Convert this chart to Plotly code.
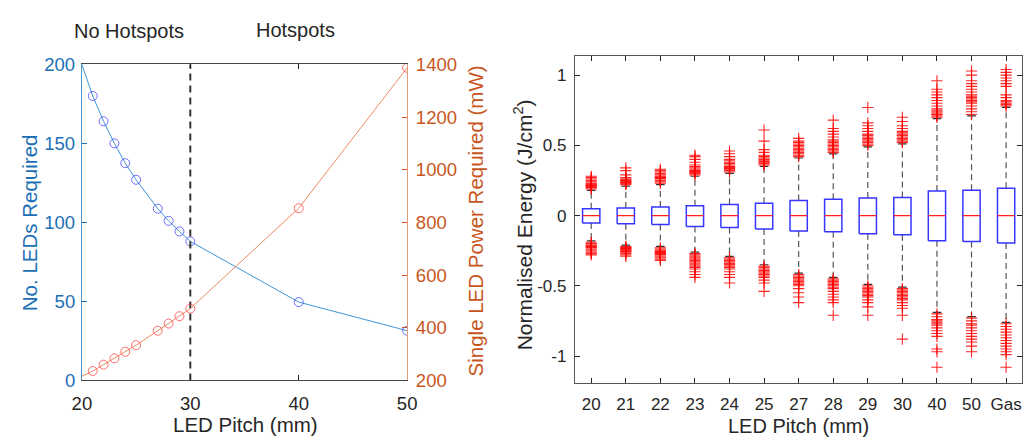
import plotly.graph_objects as go

# ---------------- Left chart data ----------------
pitch = [20, 21, 22, 23, 24, 25, 27, 28, 29, 30, 40, 50]
n_leds = [200, 180, 164, 150, 137.5, 127, 108.7, 101, 94.3, 88, 49.6, 31.5]
led_power = [216, 236, 260, 284, 309, 334, 389, 416, 444, 473, 854, 1387]
hotspot_threshold = 30

# ---------------- Right chart data ----------------
categories = ["20", "21", "22", "23", "24", "25", "27", "28", "29", "30", "40", "50", "Gas"]
medians = [0, 0, 0, 0, 0, 0, 0, 0, 0, 0, 0, 0, 0]
q3 = [0.048, 0.054, 0.061, 0.070, 0.079, 0.088, 0.107, 0.116, 0.125, 0.129, 0.175, 0.181, 0.195]
q1 = [-0.052, -0.059, -0.063, -0.077, -0.084, -0.095, -0.109, -0.116, -0.129, -0.136, -0.179, -0.184, -0.195]
whisk_hi = [0.18, 0.21, 0.22, 0.28, 0.30, 0.35, 0.41, 0.44, 0.49, 0.51, 0.69, 0.71, 0.77]
whisk_lo = [-0.18, -0.21, -0.22, -0.26, -0.29, -0.35, -0.41, -0.44, -0.49, -0.51, -0.69, -0.72, -0.76]
outliers = [
    [0.19, 0.20, 0.205, 0.21, 0.215, 0.22, 0.225, 0.23, 0.24, 0.25, 0.26, 0.27, 0.28,
     -0.19, -0.20, -0.21, -0.215, -0.22, -0.225, -0.23, -0.24, -0.25, -0.26, -0.27, -0.28],
    [0.22, 0.225, 0.23, 0.235, 0.24, 0.245, 0.25, 0.255, 0.26, 0.27, 0.29, 0.32, 0.34,
     -0.22, -0.225, -0.23, -0.235, -0.24, -0.245, -0.25, -0.255, -0.26, -0.27, -0.28, -0.29],
    [0.23, 0.24, 0.25, 0.26, 0.265, 0.27, 0.275, 0.28, 0.29, 0.30, 0.31, 0.32, 0.33,
     -0.23, -0.24, -0.25, -0.255, -0.26, -0.265, -0.27, -0.275, -0.28, -0.29, -0.30, -0.31, -0.32],
    [0.29, 0.30, 0.305, 0.31, 0.315, 0.32, 0.33, 0.34, 0.35, 0.36, 0.38, 0.40, 0.42, 0.43,
     -0.27, -0.28, -0.29, -0.30, -0.31, -0.32, -0.33, -0.34, -0.35, -0.36, -0.37, -0.38, -0.40, -0.42, -0.44],
    [0.31, 0.32, 0.33, 0.335, 0.34, 0.345, 0.35, 0.36, 0.37, 0.38, 0.39, 0.40, 0.42, 0.44, 0.46,
     -0.30, -0.31, -0.32, -0.33, -0.34, -0.345, -0.35, -0.36, -0.37, -0.38, -0.40, -0.42, -0.44, -0.48],
    [0.36, 0.37, 0.38, 0.385, 0.39, 0.40, 0.41, 0.42, 0.43, 0.45, 0.47, 0.53, 0.61,
     -0.36, -0.37, -0.38, -0.39, -0.40, -0.41, -0.42, -0.43, -0.44, -0.46, -0.48, -0.54],
    [0.42, 0.43, 0.44, 0.45, 0.46, 0.47, 0.48, 0.49, 0.50, 0.51, 0.52, 0.53, 0.55,
     -0.42, -0.43, -0.44, -0.45, -0.46, -0.47, -0.48, -0.49, -0.50, -0.52, -0.55, -0.58, -0.62],
    [0.45, 0.46, 0.47, 0.48, 0.49, 0.50, 0.51, 0.52, 0.53, 0.54, 0.56, 0.58, 0.60, 0.62, 0.68,
     -0.45, -0.46, -0.47, -0.48, -0.49, -0.50, -0.51, -0.52, -0.54, -0.56, -0.58, -0.60, -0.62, -0.71],
    [0.50, 0.51, 0.52, 0.53, 0.54, 0.55, 0.56, 0.57, 0.58, 0.60, 0.62, 0.64, 0.66, 0.77,
     -0.50, -0.51, -0.52, -0.53, -0.54, -0.55, -0.56, -0.57, -0.58, -0.60, -0.62, -0.65, -0.71],
    [0.52, 0.53, 0.54, 0.55, 0.56, 0.57, 0.58, 0.59, 0.60, 0.62, 0.64, 0.67, 0.70,
     -0.52, -0.53, -0.54, -0.55, -0.56, -0.57, -0.58, -0.59, -0.60, -0.62, -0.64, -0.66, -0.71, -0.88],
    [0.70, 0.71, 0.72, 0.73, 0.74, 0.75, 0.76, 0.78, 0.80, 0.82, 0.84, 0.86, 0.88, 0.90, 0.96,
     -0.70, -0.72, -0.74, -0.75, -0.76, -0.77, -0.78, -0.80, -0.82, -0.84, -0.86, -0.95, -0.97, -1.08],
    [0.72, 0.74, 0.76, 0.78, 0.80, 0.81, 0.82, 0.83, 0.84, 0.85, 0.86, 0.88, 0.90, 0.92, 0.94, 0.96, 1.00, 1.03,
     -0.73, -0.75, -0.77, -0.78, -0.80, -0.82, -0.84, -0.86, -0.88, -0.90, -0.93, -0.97],
    [0.78, 0.79, 0.80, 0.81, 0.82, 0.84, 0.86, 0.92, 0.94, 0.96, 0.98, 1.00, 1.02, 1.04,
     -0.77, -0.79, -0.81, -0.83, -0.85, -0.87, -0.89, -0.91, -0.93, -0.95, -0.97, -0.99, -1.08],
]

BLUE_AX = "#1a6fb5"
ORANGE_AX = "#c8561c"
DARK = "#262626"
FONT = "Liberation Sans, Arial, sans-serif"
W, H = 1032, 447

fig = go.Figure()

# markers are not shown at the first pitch (line starts at the corner)
marker_sizes = [0] + [9] * (len(pitch) - 1)

# ---- left chart traces ----
fig.add_trace(go.Scatter(
    x=pitch, y=n_leds, mode="lines+markers",
    line=dict(color="#3d95d6", width=1),
    marker=dict(symbol="circle-open", size=marker_sizes, color="#3333ff", line=dict(width=1)),
    xaxis="x", yaxis="y", showlegend=False))
fig.add_trace(go.Scatter(
    x=pitch, y=led_power, mode="lines+markers",
    line=dict(color="#ee8a60", width=1),
    marker=dict(symbol="circle-open", size=marker_sizes, color="#ff3333", line=dict(width=1)),
    xaxis="x", yaxis="y2", showlegend=False))
fig.add_trace(go.Scatter(
    x=[hotspot_threshold, hotspot_threshold], y=[0, 200], mode="lines",
    line=dict(color="#333333", width=2, dash="7px,5px"),
    xaxis="x", yaxis="y", showlegend=False))

# ---- right chart traces (box plots built from statistics) ----
hw = 0.25
idx = list(range(len(categories)))
wx, wy, cx, cy, bx, by, mx, my, ox, oy = [], [], [], [], [], [], [], [], [], []
for i in idx:
    wx += [i, i, None, i, i, None]
    wy += [q3[i], whisk_hi[i], None, q1[i], whisk_lo[i], None]
    cx += [i - hw / 2, i + hw / 2, None, i - hw / 2, i + hw / 2, None]
    cy += [whisk_hi[i], whisk_hi[i], None, whisk_lo[i], whisk_lo[i], None]
    bx += [i - hw, i + hw, i + hw, i - hw, i - hw, None]
    by += [q1[i], q1[i], q3[i], q3[i], q1[i], None]
    mx += [i - hw, i + hw, None]
    my += [medians[i], medians[i], None]
    ox += [i] * len(outliers[i])
    oy += outliers[i]

fig.add_trace(go.Scatter(x=wx, y=wy, mode="lines", line=dict(color="#555555", width=1.2, dash="6px,4px"),
                         xaxis="x2", yaxis="y3", showlegend=False))
fig.add_trace(go.Scatter(x=cx, y=cy, mode="lines", line=dict(color="#333333", width=1.2),
                         xaxis="x2", yaxis="y3", showlegend=False))
fig.add_trace(go.Scatter(x=bx, y=by, mode="lines", line=dict(color="#3535ff", width=1.5),
                         xaxis="x2", yaxis="y3", showlegend=False))
fig.add_trace(go.Scatter(x=mx, y=my, mode="lines", line=dict(color="#ff2020", width=1.2),
                         xaxis="x2", yaxis="y3", showlegend=False))
fig.add_trace(go.Scatter(x=ox, y=oy, mode="markers",
                         marker=dict(symbol="cross-thin", size=8, color="red", opacity=0.85,
                                     line=dict(color="red", width=1.1)),
                         xaxis="x2", yaxis="y3", showlegend=False))

axis_common = dict(showgrid=False, zeroline=False, ticks="inside", ticklen=5, showline=True,
                   linewidth=1)

fig.update_layout(
    width=W, height=H, margin=dict(l=0, r=0, t=0, b=0),
    paper_bgcolor="white", plot_bgcolor="white",
    font=dict(family=FONT, size=17, color=DARK),
    xaxis=dict(domain=[73.3 / W, 405 / W], range=[20, 50], tickvals=[20, 30, 40, 50],
               anchor="y", mirror="ticks", linecolor="#444444", tickcolor=DARK,
               tickfont=dict(size=18.5, color=DARK), ticklabelstandoff=6, **axis_common),
    yaxis=dict(domain=[1 - 387.7 / H, 1 - 56 / H], range=[0, 200], tickvals=[0, 50, 100, 150, 200],
               anchor="x", linecolor="#4a93cc", tickcolor=BLUE_AX,
               tickfont=dict(size=18.5, color=BLUE_AX), ticklabelstandoff=2, **axis_common),
    yaxis2=dict(overlaying="y", side="right", anchor="x", range=[200, 1400],
                tickvals=[200, 400, 600, 800, 1000, 1200, 1400],
                linecolor="#e29a78", tickcolor=ORANGE_AX,
                tickfont=dict(size=18.5, color=ORANGE_AX), ticklabelstandoff=4, **axis_common),
    xaxis2=dict(domain=[576 / W, 1.0], range=[-0.474, 12.46], tickvals=idx, ticktext=categories,
                anchor="y3", mirror="ticks", linecolor="#555555", tickcolor=DARK,
                tickfont=dict(size=17, color=DARK), ticklabelstandoff=6, **axis_common),
    yaxis3=dict(domain=[1 - 390 / H, 1 - 47 / H], range=[-1.19, 1.138],
                tickvals=[-1, -0.5, 0, 0.5, 1], ticktext=["-1", "-0.5", "0", "0.5", "1"],
                anchor="x2", mirror="ticks", linecolor="#555555", tickcolor=DARK,
                tickfont=dict(size=17, color=DARK), ticklabelstandoff=4, **axis_common),
)

annotations = [
    dict(text="No Hotspots", x=121 / W, y=1 - 21 / H, font=dict(size=20, color=DARK)),
    dict(text="Hotspots", x=291 / W, y=1 - 20 / H, font=dict(size=20, color=DARK)),
    dict(text="LED Pitch (mm)", x=240 / W, y=1 - 434 / H, font=dict(size=20.5, color=DARK)),
    dict(text="LED Pitch (mm)", x=804 / W, y=1 - 435 / H, font=dict(size=20, color=DARK)),
    dict(text="No. LEDs Required", x=20 / W, y=1 - 222 / H, textangle=-90,
         font=dict(size=20.5, color=BLUE_AX)),
    dict(text="Single LED Power Required (mW)", x=475 / W, y=1 - 220 / H, textangle=-90,
         font=dict(size=20.5, color=ORANGE_AX)),
    dict(text="Normalised Energy (J/cm<sup>2</sup>)", x=524 / W, y=1 - 224 / H, textangle=-90,
         font=dict(size=21, color=DARK)),
]
for a in annotations:
    a.update(xref="paper", yref="paper", showarrow=False, xanchor="center", yanchor="middle")
fig.update_layout(annotations=annotations)

fig.write_html("out.html")
